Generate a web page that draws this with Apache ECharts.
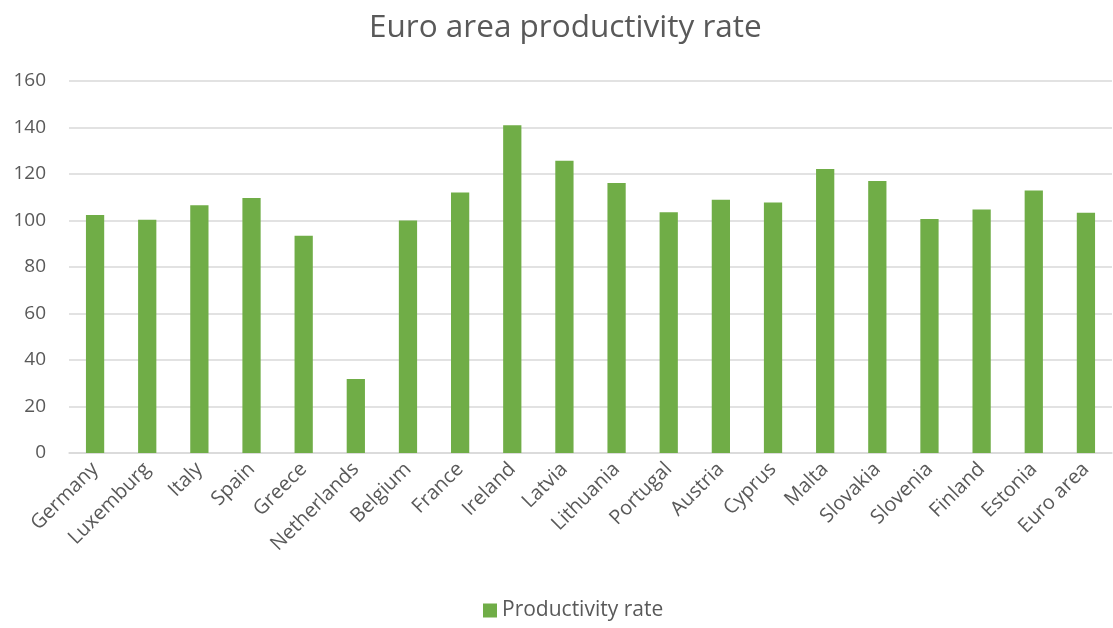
<!DOCTYPE html>
<html>
<head>
<meta charset="utf-8">
<script src="https://cdn.jsdelivr.net/npm/echarts@6/dist/echarts.min.js"></script>
<style>html,body{margin:0;padding:0;background:#fff}#c{width:1113px;height:628px}</style>
</head>
<body>
<div id="c"></div>
<script>
const categories = ["Germany","Luxemburg","Italy","Spain","Greece","Netherlands","Belgium","France","Ireland","Latvia","Lithuania","Portugal","Austria","Cyprus","Malta","Slovakia","Slovenia","Finland","Estonia","Euro area"];
const productivity = [102.4,100.3,106.6,109.7,93.4,31.8,100.0,112.0,141.0,125.7,116.1,103.6,108.9,107.7,122.1,117.0,100.6,104.7,112.9,103.3];
const yTicks = [0,20,40,60,80,100,120,140,160];

const font = '"Open Sans", sans-serif';
const chart = echarts.init(document.getElementById('c'));
chart.setOption({
  animation: false,
  title: {
    text: 'Euro area productivity rate',
    left: 364, top: 7,
    textStyle: {fontFamily: font, fontSize: 31.5, fontWeight: 'normal', color: '#595959'}
  },
  legend: {
    data: ['Productivity rate'],
    bottom: 2, left: 478,
    icon: 'rect', itemWidth: 14, itemHeight: 14, itemGap: 6,
    textStyle: {fontFamily: font, fontSize: 21, color: '#595959'}
  },
  grid: {left: 69, right: 1, top: 81, bottom: 175, containLabel: false},
  xAxis: {
    type: 'category', data: categories,
    axisLine: {lineStyle: {color: '#d9d9d9', width: 1.5}},
    axisTick: {show: false},
    axisLabel: {rotate: 45, fontFamily: font, fontSize: 20, color: '#595959', margin: 13, interval: 0}
  },
  yAxis: {
    type: 'value', min: yTicks[0], max: yTicks[yTicks.length-1], interval: 20,
    axisLine: {show: false}, axisTick: {show: false},
    splitLine: {lineStyle: {color: '#d9d9d9', width: 1.5}},
    axisLabel: {fontFamily: font, fontSize: 19, color: '#595959', margin: 23}
  },
  series: [{
    name: 'Productivity rate', type: 'bar', data: productivity,
    barWidth: '35%',
    itemStyle: {color: '#70ad47'}
  }]
});
</script>
</body>
</html>
